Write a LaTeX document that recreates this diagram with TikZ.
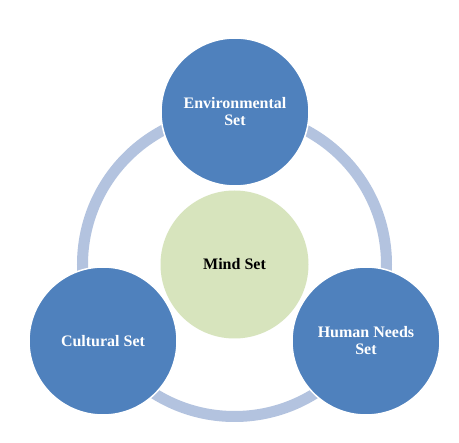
\documentclass[tikz,border=0pt]{standalone}
\usepackage{fontspec}
\setmainfont{Liberation Serif}
\usepackage{tikz}
\usetikzlibrary{positioning}

\definecolor{setblue}{HTML}{4F81BD}
\definecolor{ringblue}{HTML}{B3C3DF}
\definecolor{mindgreen}{HTML}{D7E4BD}

\tikzset{
  setcircle/.style={circle, minimum size=148pt, inner sep=0pt, fill=setblue,
    draw=white, line width=1.5pt, text=white, align=center,
    font=\fontsize{16}{17}\selectfont\bfseries},
  mindcircle/.style={circle, minimum size=148pt, inner sep=0pt, fill=mindgreen,
    text=black, align=center, font=\fontsize{16}{17}\selectfont\bfseries}
}

\begin{document}
\begin{tikzpicture}[x=1pt,y=-1pt]
    \useasboundingbox [fill=white] (0,0) rectangle (459,443);

    % ring through the three sets
    \draw [ringblue,line width=11pt] (234.5,264.5) circle (152);

    \node [mindcircle] (mind) at (234.5,264.5) {Mind Set};

    \node [setcircle] (env)   at (235,112) {Environmental\\Set};
    \node [setcircle] (cult)  at (103,341) {Cultural Set};
    \node [setcircle] (human) at (366,341) {Human Needs\\Set};

\end{tikzpicture}
\end{document}
